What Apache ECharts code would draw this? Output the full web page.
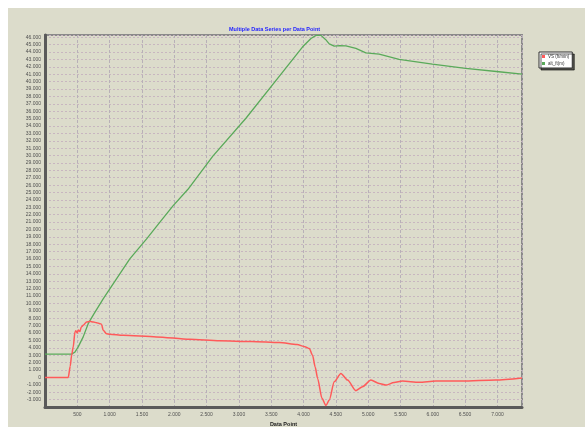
<!DOCTYPE html>
<html>
<head>
<meta charset="utf-8">
<script src="https://cdn.jsdelivr.net/npm/echarts@6/dist/echarts.min.js"></script>
<style>
html,body{margin:0;padding:0;background:#ffffff;}
#c{position:absolute;left:8px;top:8px;width:577px;height:419px;}
</style>
</head>
<body>
<div id="c"></div>
<script>
// Data
const seriesNames = ['VS (ft/min)', 'alt_ft(m)'];
const vsX = [0, 360, 390, 412, 437, 463, 478, 500, 514, 540, 560, 591, 643, 694, 750, 798, 849, 875, 900, 952, 1003, 1208, 1723, 2238, 2700, 3200, 3627, 3900, 4020, 4090, 4140, 4180, 4218, 4285, 4347, 4398, 4475, 4578, 4681, 4810, 4913, 5042, 5170, 5273, 5400, 5530, 5787, 6045, 6457, 6971, 7380];
const vsY = [0, 0, 1500, 3000, 4130, 6150, 6300, 6000, 6400, 6200, 6800, 7040, 7500, 7580, 7480, 7400, 7270, 7200, 6370, 5920, 5850, 5700, 5480, 5150, 4950, 4850, 4710, 4450, 4150, 3900, 3000, 1400, -130, -2830, -3810, -3050, -580, 540, -360, -1790, -1250, -360, -810, -1040, -700, -500, -670, -500, -500, -360, -80];
const altX = [0, 412, 460, 514, 591, 668, 750, 900, 1106, 1312, 1569, 1775, 1980, 2212, 2597, 3112, 3627, 3986, 4115, 4193, 4270, 4340, 4398, 4475, 4560, 4656, 4810, 4964, 5170, 5478, 5993, 6508, 7022, 7380];
const altY = [3150, 3150, 3400, 4130, 5480, 7270, 8500, 10630, 13320, 16020, 18710, 20960, 23190, 25440, 29920, 35080, 40740, 44700, 45830, 46250, 46250, 45700, 45100, 44790, 44850, 44830, 44480, 43890, 43710, 43000, 42370, 41780, 41330, 41000];
const xMin = 0, xMax = 7380, xStep = 500;
const yMin = -4000, yMax = 46300, yStep = 1000;

function fmt(v) {
  if (v === 0) return '0';
  const s = Math.abs(v).toString().replace(/\B(?=(\d{3})+(?!\d))/g, '.');
  return (v < 0 ? '-' : '') + s;
}

const bg = '#dcdccb';
const chart = echarts.init(document.getElementById('c'));
chart.setOption({
  backgroundColor: bg,
  animation: false,
  textStyle: { fontFamily: 'Liberation Sans, Arial, sans-serif' },
  title: {
    text: 'Multiple Data Series per Data Point',
    left: 221, top: 18, padding: 0,
    textStyle: { color: '#2424ff', fontSize: 5.5, fontWeight: 'bold' }
  },
  legend: {
    data: seriesNames,
    orient: 'vertical',
    left: 531, top: 44,
    padding: [2, 3, 2, 3],
    itemWidth: 3, itemHeight: 3, itemGap: 2,
    icon: 'rect',
    backgroundColor: '#ffffff',
    borderColor: '#303030', borderWidth: 1,
    shadowColor: 'rgba(0,0,0,0.6)', shadowOffsetX: 2, shadowOffsetY: 2, shadowBlur: 0,
    textStyle: { fontSize: 4.5, color: '#303030', padding: [0, 0, 0, -2] }
  },
  grid: {
    left: 37, right: 63, top: 27, bottom: 20,
    containLabel: false, outerBoundsMode: 'none',
    show: true, backgroundColor: bg,
    borderColor: '#8a8a8a', borderWidth: 2
  },
  xAxis: {
    type: 'value', min: xMin, max: xMax, interval: xStep,
    name: 'Data Point', nameLocation: 'middle', nameGap: 10,
    nameTextStyle: { fontSize: 5.5, fontWeight: 'bold', color: '#202020' },
    axisLine: { onZero: false, lineStyle: { color: '#5a5a5a', width: 3 } },
    axisTick: { show: false },
    axisLabel: {
      fontSize: 5, color: '#505050', margin: 5,
      formatter: v => (v === 0 || v % xStep !== 0) ? '' : fmt(v),
      showMaxLabel: false
    },
    splitLine: { show: true, lineStyle: { color: '#b8b0b8', width: 1, type: [3, 2] } }
  },
  yAxis: {
    type: 'value', min: yMin, max: yMax, interval: yStep,
    axisLine: { show: true, lineStyle: { color: '#5a5a5a', width: 3 } },
    axisTick: { show: false },
    axisLabel: {
      fontSize: 5, color: '#505050', margin: 4,
      formatter: v => (v % yStep !== 0 || v === yMin) ? '' : fmt(v),
      showMinLabel: false, showMaxLabel: false
    },
    splitLine: { show: true, lineStyle: { color: '#c8b6c0', width: 1, type: [2, 2] } }
  },
  series: [
    {
      name: seriesNames[0], type: 'line', showSymbol: false,
      smooth: 0.25, smoothMonotone: 'x',
      lineStyle: { color: '#ff5a5a', width: 1.5 }, itemStyle: { color: '#ff5a5a' },
      data: vsX.map((x, i) => [x, vsY[i]]), z: 3
    },
    {
      name: seriesNames[1], type: 'line', showSymbol: false,
      smooth: false,
      lineStyle: { color: '#5aaa5a', width: 1.3 }, itemStyle: { color: '#5aaa5a' },
      data: altX.map((x, i) => [x, altY[i]]), z: 2
    }
  ]
});
</script>
</body>
</html>
